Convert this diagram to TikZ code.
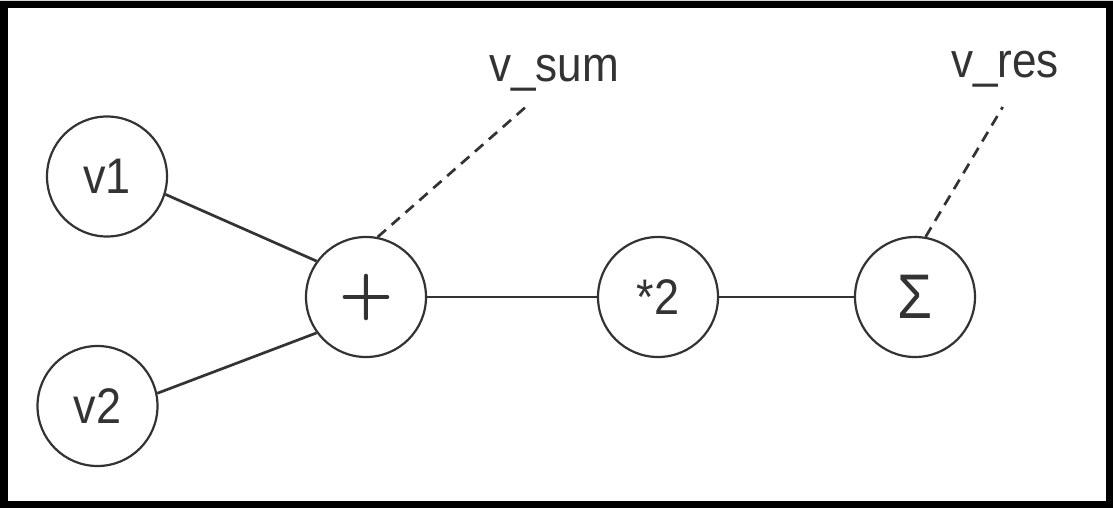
\documentclass[tikz,border=0pt]{standalone}
\usepackage{fontspec}
\setmainfont{Liberation Sans}[FakeStretch=0.9]
\newfontface\plusface{Latin Modern Roman}[FakeBold=2]
\definecolor{ink}{HTML}{333333}
\begin{document}
\begin{tikzpicture}[x=1pt,y=-1pt,
  op/.style={circle,draw=ink,line width=2.2pt,minimum size=120pt,inner sep=0pt,
    text=ink,font=\fontsize{50}{50}\selectfont},
  lbl/.style={inner sep=0pt,anchor=base west,text=ink,font=\fontsize{49}{49}\selectfont},
  edge/.style={draw=ink,line width=2.7pt},
  dedge/.style={draw=ink,line width=2.7pt,dash pattern=on 11pt off 7.5pt}]
\useasboundingbox (0,0) rectangle (1113,508);
\fill[black] (0,0) rectangle (1113,508);
\fill[white] (8,8.3) rectangle (1105.6,500.6);
\fill[black!15] (0,0) rectangle (1113,1.4);
\node[op] (v1) at (107,176.5) {v1};
\node[op] (v2) at (97.5,406) {v2};
\node[op,font=\plusface\fontsize{72}{72}\selectfont] (plus) at (366,297) {+};
\node[op] (times) at (658,297) {*2};
\node[op] (sigma) at (915,297) {\fontsize{63}{63}\selectfont Σ};
\node[lbl] (vsum) at (489,82) {v\_sum};
\node[lbl] (vres) at (951,77.5) {v\_res};
\coordinate (sumtip) at (525.7,107);
\coordinate (restip) at (1002.7,107);
\draw[edge] (v1.-17) -- (plus.144);
\draw[edge] (v2.12) -- (plus.216);
\draw[edge] (plus.east) -- (times.west);
\draw[edge] (times.east) -- (sigma.west);
\draw[dedge] (plus.79) -- (sumtip);
\draw[dedge] (sigma.80.5) -- (restip);
\end{tikzpicture}
\end{document}
